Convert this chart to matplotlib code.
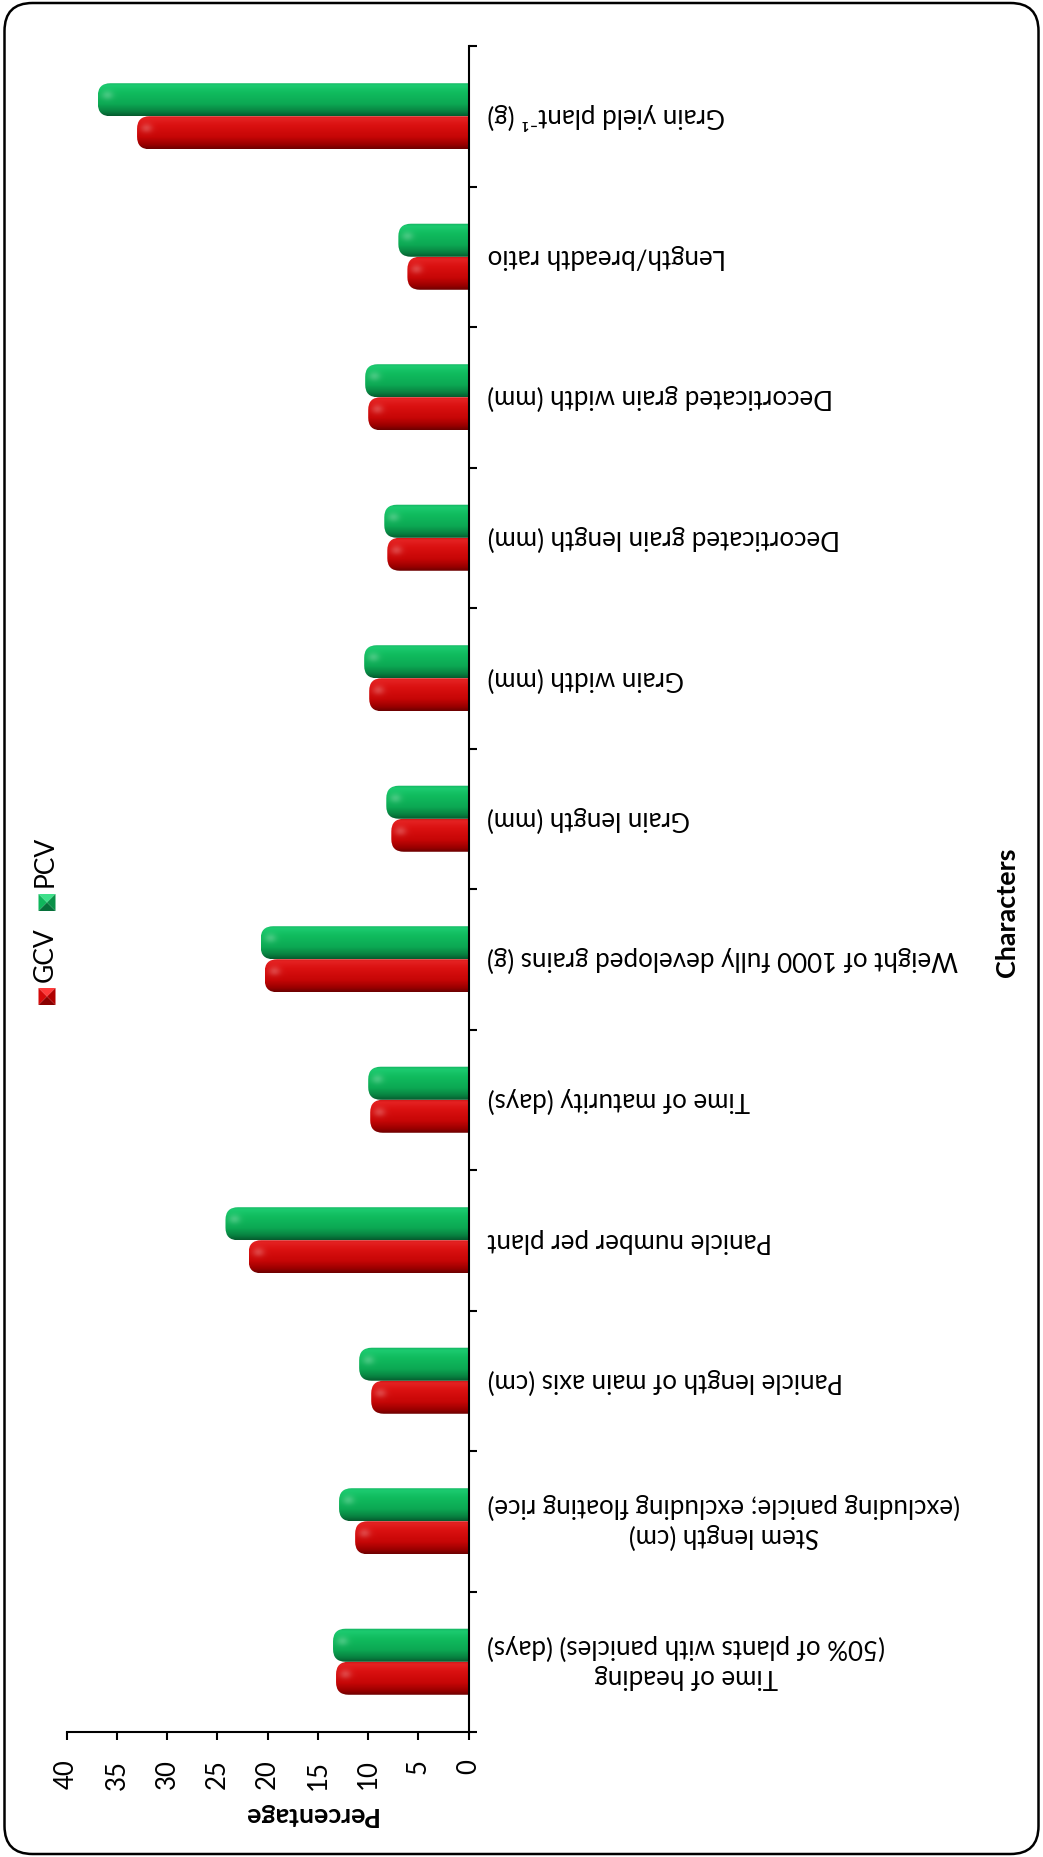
import numpy as np
import matplotlib
matplotlib.use("Agg")
import matplotlib.pyplot as plt
from matplotlib.patches import FancyBboxPatch, Polygon
from matplotlib.colors import to_rgb

# ---- data (categories listed from bottom to top) ----
categories = [
    "Time of heading\n(50% of plants with panicles) (days)",
    "Stem length (cm)\n(excluding panicle; excluding floating rice)",
    "Panicle length of main axis (cm)",
    "Panicle number per plant",
    "Time of maturity (days)",
    "Weight of 1000 fully developed grains (g)",
    "Grain length (mm)",
    "Grain width (mm)",
    "Decorticated grain length (mm)",
    "Decorticated grain width (mm)",
    "Length/breadth ratio",
    "Grain yield plant\u207b\u00b9 (g)",
]
gcv = [13.2, 11.3, 9.7, 21.9, 9.8, 20.3, 7.7, 9.9, 8.1, 10.0, 6.1, 33.0]
pcv = [13.5, 12.9, 10.9, 24.2, 10.0, 20.7, 8.2, 10.4, 8.4, 10.3, 7.0, 36.9]
value_ticks = [0, 5, 10, 15, 20, 25, 30, 35, 40]
series_names = ["GCV", "PCV"]

FONT = ["Lato", "DejaVu Sans"]
plt.rcParams["font.family"] = FONT

W, H, DPI = 1043, 1857, 100
fig = plt.figure(figsize=(W / DPI, H / DPI), dpi=DPI)
fig.patch.set_facecolor("white")

# plot area in pixels: value axis from x=66.7 (40) to 468.7 (0), categories from y=46 to 1732
ax_left, ax_right = 66.7, 468.7
ax_top, ax_bottom = 46.0, 1732.0
ax = fig.add_axes([ax_left / W, 1 - ax_bottom / H,
                   (ax_right - ax_left) / W, (ax_bottom - ax_top) / H])
ax.set_facecolor("none")

n = len(categories)
ypos = np.arange(n)
bar_h = 0.235

# shading profiles across the bar thickness (bottom -> top)
red_stops = [(0.0, "#6e0000"), (0.12, "#990000"), (0.35, "#c60606"),
             (0.7, "#da1010"), (0.92, "#e42222"), (1.0, "#cc1414")]
green_stops = [(0.0, "#055c2e"), (0.12, "#088040"), (0.35, "#0ca853"),
               (0.7, "#10bc5e"), (0.92, "#1ccb70"), (1.0, "#12b260")]


def profile(stops, t):
    pos = np.array([s[0] for s in stops])
    cols = np.array([to_rgb(s[1]) for s in stops])
    return np.stack([np.interp(t, pos, cols[:, i]) for i in range(3)], axis=-1)


xlim = (40, 0)
ylim = (-0.5, n - 0.5)
px_per_x = (ax_right - ax_left) / 40.0
px_per_y = (ax_bottom - ax_top) / n
aspect = px_per_x / px_per_y
round_x = 1.25  # corner radius in value units
overhang = 1.5


def shaded_bars(rects, stops):
    for r in rects:
        x0, y0 = r.get_x(), r.get_y()
        val, hgt = r.get_width(), r.get_height()
        left = x0 - overhang
        width = val + overhang
        patch = FancyBboxPatch((left, y0), width, hgt,
                               boxstyle=f"round,pad=0,rounding_size={round_x}",
                               mutation_aspect=aspect,
                               facecolor="none", edgecolor="none", zorder=2)
        ax.add_patch(patch)
        ny = 40
        nx = max(int(width * px_per_x), 2)
        t = np.linspace(0, 1, ny)
        base = profile(stops, t)[:, None, :].repeat(nx, axis=1)
        # soft specular spot close to the rounded end
        xs = np.linspace(left, val, nx)
        dx = (val - xs) * px_per_x
        yy = t[:, None]
        spot = np.exp(-((dx[None, :] - 9) / 6.0) ** 2 - ((yy - 0.62) / 0.14) ** 2)
        img = base + (1 - base) * 0.22 * spot[..., None]
        im = ax.imshow(np.clip(img, 0, 1), extent=(left, val, y0, y0 + hgt),
                       origin="lower", aspect="auto", interpolation="bilinear",
                       zorder=2)
        im.set_clip_path(patch)


red_rects = ax.barh(ypos - bar_h / 2, gcv, height=bar_h, alpha=0)
green_rects = ax.barh(ypos + bar_h / 2, pcv, height=bar_h, alpha=0)
shaded_bars(red_rects, red_stops)
shaded_bars(green_rects, green_stops)

ax.set_xlim(*xlim)
ax.set_ylim(*ylim)

# spines: category axis on the right, value axis at the bottom
for side in ("left", "top"):
    ax.spines[side].set_visible(False)
for side in ("right", "bottom"):
    ax.spines[side].set_linewidth(1.5)
    ax.spines[side].set_zorder(5)

ax.yaxis.tick_right()
ax.set_yticks(np.arange(-0.5, n, 1.0))
ax.set_yticklabels([])
ax.set_yticks(ypos, minor=True)
ax.set_yticklabels(categories, minor=True, rotation=180, ha="left", va="center",
                   multialignment="center", fontsize=18.6, linespacing=1.2)
ax.tick_params(axis="y", which="major", direction="out", length=5.8, width=1.5,
               right=True, left=False)
ax.tick_params(axis="y", which="minor", length=0, pad=13.5, right=True, left=False)

ax.set_xticks(value_ticks)
ax.set_xticklabels([str(v) for v in value_ticks], rotation=90, fontsize=18.5)
ax.tick_params(axis="x", which="major", direction="out", length=5.8, width=1.5,
               pad=14)

# axis titles
fig.text(309 / W, 1 - 1815 / H, "Percentage", rotation=180, fontsize=19.2,
         fontweight="bold", ha="center", va="center")
fig.text(1007 / W, 1 - 912 / H, "Characters", rotation=90, fontsize=19.4,
         fontweight="bold", ha="center", va="center")

# legend: bevelled squares with rotated labels
legend_colors = [("#d50a0a", "#ff3a3a", "#8a0000", "#b00000"),
                 ("#0fb75c", "#3ee08a", "#06703a", "#0a9048")]
legend_marker_y = [996.5, 902.5]
legend_text_y = [982, 887]
mx, ms = 47.0, 17.0
for name, cols, my, ty in zip(series_names, legend_colors, legend_marker_y, legend_text_y):
    cx, cy = mx, H - my
    h2 = ms / 2
    c = (cx, cy)
    tl, tr = (cx - h2, cy + h2), (cx + h2, cy + h2)
    bl, br = (cx - h2, cy - h2), (cx + h2, cy - h2)
    faces = [((tl, tr, c), cols[1]), ((tl, bl, c), cols[0]),
             ((bl, br, c), cols[2]), ((tr, br, c), cols[3])]
    for pts, col in faces:
        fig.patches.append(Polygon(pts, closed=True, facecolor=col,
                                   edgecolor="none", transform=None))
    fig.text(45 / W, 1 - ty / H, name, rotation=90, fontsize=19,
             ha="center", va="bottom")

# rounded outer border
frame = FancyBboxPatch((4.5, 3.0), W - 9.0, H - 6.0,
                       boxstyle="round,pad=0,rounding_size=28",
                       facecolor="none", edgecolor="black", linewidth=1.8,
                       transform=None)
fig.patches.append(frame)

fig.savefig("out.png", dpi=DPI)
